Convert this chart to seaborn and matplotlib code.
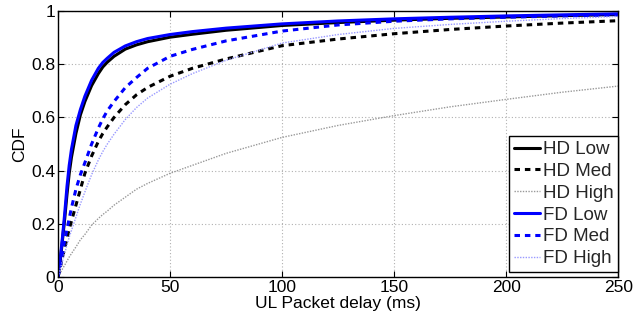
import matplotlib
matplotlib.use("Agg")
import matplotlib.pyplot as plt
import seaborn as sns
import numpy as np

delay_ms = [0, 1, 2, 3, 4, 5, 6, 8, 10, 12, 15, 18, 20, 22, 25, 30, 35, 40, 50, 60, 75,
            100, 125, 150, 175, 200, 225, 250]

hd_low = [0, 0.06, 0.14, 0.22, 0.31, 0.39, 0.45, 0.54, 0.61, 0.66, 0.72, 0.765, 0.79,
          0.808, 0.83, 0.857, 0.873, 0.885, 0.902, 0.913, 0.928, 0.946, 0.957, 0.966,
          0.973, 0.978, 0.983, 0.987]
hd_med = [0, 0.035, 0.075, 0.11, 0.145, 0.18, 0.21, 0.27, 0.33, 0.39, 0.455, 0.51, 0.54,
          0.565, 0.60, 0.648, 0.685, 0.713, 0.755, 0.785, 0.82, 0.87, 0.895, 0.915,
          0.931, 0.944, 0.955, 0.964]
hd_high = [0, 0.015, 0.03, 0.045, 0.06, 0.075, 0.088, 0.113, 0.14, 0.16, 0.195, 0.22,
           0.235, 0.248, 0.27, 0.30, 0.33, 0.352, 0.39, 0.42, 0.465, 0.525, 0.57, 0.607,
           0.64, 0.668, 0.695, 0.718]
fd_low = [0, 0.07, 0.15, 0.24, 0.34, 0.42, 0.48, 0.57, 0.63, 0.68, 0.74, 0.785, 0.807,
          0.823, 0.845, 0.869, 0.885, 0.897, 0.912, 0.923, 0.936, 0.952, 0.963, 0.971,
          0.977, 0.982, 0.986, 0.99]
fd_med = [0, 0.04, 0.09, 0.14, 0.18, 0.22, 0.26, 0.33, 0.385, 0.43, 0.50, 0.56, 0.595,
          0.625, 0.66, 0.712, 0.75, 0.785, 0.83, 0.856, 0.888, 0.925, 0.948, 0.962,
          0.971, 0.977, 0.982, 0.986]
fd_high = [0, 0.03, 0.06, 0.09, 0.12, 0.15, 0.175, 0.225, 0.275, 0.32, 0.385, 0.44, 0.472,
           0.5, 0.537, 0.592, 0.637, 0.673, 0.725, 0.765, 0.815, 0.88, 0.912, 0.935,
           0.95, 0.962, 0.972, 0.98]

labels = ["HD Low", "HD Med", "HD High", "FD Low", "FD Med", "FD High"]
x_ticks = [0, 50, 100, 150, 200, 250]
y_ticks = [0, 0.2, 0.4, 0.6, 0.8, 1]

sns.set_theme(style="white")
plt.rcParams['font.family'] = ['Liberation Sans', 'DejaVu Sans']

fig = plt.figure(figsize=(6.34, 3.18), dpi=100)
ax = fig.add_axes([0.0915, 0.129, 0.975 - 0.0915, 0.965 - 0.129])

series = [hd_low, hd_med, hd_high, fd_low, fd_med, fd_high]
styles = [
    dict(color="black", linestyle="-", linewidth=2.2),
    dict(color="black", linestyle=(0, (1.8, 1.6)), linewidth=2.2),
    dict(color="#999999", linestyle=(0, (1, 1)), linewidth=1.0),
    dict(color="#0000ff", linestyle="-", linewidth=2.2),
    dict(color="#0000ff", linestyle=(0, (1.8, 1.6)), linewidth=2.2),
    dict(color="#9999ff", linestyle=(0, (1, 1)), linewidth=1.0),
]
for vals, lab, st in zip(series, labels, styles):
    sns.lineplot(x=delay_ms, y=vals, ax=ax, label=lab, **st)

ax.set_xlim(0, 250)
ax.set_ylim(0, 1)
ax.set_xticks(x_ticks)
ax.set_xticklabels([str(t) for t in x_ticks])
ax.set_yticks(y_ticks)
ax.set_yticklabels(["0", "0.2", "0.4", "0.6", "0.8", "1"])
ax.grid(True, color="#b0b0b0", linestyle=(0, (1, 2)), linewidth=0.8)
for sp in ax.spines.values():
    sp.set_color("black")
    sp.set_linewidth(1.0)
ax.tick_params(direction="in", length=4, width=0.8, colors="black", labelsize=12.5,
               top=True, right=True, bottom=True, left=True, pad=2)
ax.set_xlabel("UL Packet delay (ms)", fontsize=12.5, color="black", labelpad=1)
ax.set_ylabel("CDF", fontsize=12.5, color="black", labelpad=3)

leg = ax.legend(loc="lower right", bbox_to_anchor=(1.0, 0.019), fontsize=13.5,
                handlelength=1.4, handletextpad=0.15,
                labelspacing=0.25, borderpad=0.25, borderaxespad=0.0, frameon=True,
                fancybox=False, edgecolor="black", framealpha=1)
leg.get_frame().set_linewidth(1.0)

fig.savefig("out.png", dpi=100)
